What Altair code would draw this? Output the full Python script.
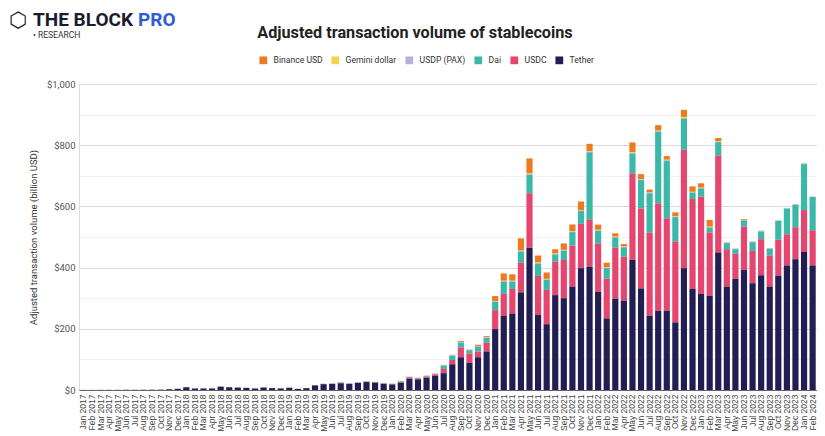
import altair as alt
import pandas as pd

month_names = ["Jan", "Feb", "Mar", "Apr", "May", "Jun", "Jul", "Aug", "Sep", "Oct", "Nov", "Dec"]
months = [f"{m} {y}" for y in range(2017, 2025) for m in month_names][:86]

tether = [
    0.3, 0.3, 0.4, 0.5, 0.5, 0.6, 0.7, 0.8, 1.0, 1.2, 2.5, 4,
    9, 5, 5, 5, 11, 9, 8, 7, 5, 8, 6, 5,
    7, 3.5, 6, 15, 19, 20, 22, 20, 23, 26, 24, 20,
    18, 24, 37, 35, 40, 46, 55, 84, 107, 89, 107, 126,
    199, 242, 250, 319, 465, 245, 215, 310, 300, 338, 398, 403,
    321, 234, 298, 292, 425, 332, 243, 259, 259, 221, 398, 330,
    314, 308, 449, 338, 363, 392, 349, 375, 338, 373, 407, 427,
    451, 407,
]
usdc = [
    0, 0, 0, 0, 0, 0, 0, 0, 0, 0, 0, 0,
    0, 0, 0, 0, 0, 0, 0, 0, 0, 0.3, 0.4, 0.3,
    0.4, 0.2, 0.3, 0.4, 0.6, 0.6, 1.0, 0.8, 1.0, 1.0, 0.8, 1.2,
    1.2, 1.5, 4, 3, 4, 5, 14, 14, 32, 30, 19, 29,
    62, 72, 80, 97, 178, 128, 112, 109, 125, 134, 145, 153,
    158, 130, 167, 144, 283, 261, 271, 351, 302, 264, 387, 294,
    318, 207, 317, 122, 82, 142, 105, 118, 101, 118, 102, 105,
    137, 115,
]
dai = [
    0, 0, 0, 0, 0, 0, 0, 0, 0, 0, 0, 0.1,
    0.2, 0.1, 0.1, 0.1, 0.2, 0.2, 0.2, 0.2, 0.2, 0.2, 0.2, 0.2,
    0.3, 0.2, 0.3, 0.4, 0.4, 0.4, 0.5, 0.5, 0.5, 0.6, 0.5, 0.6,
    0.8, 2.5, 1, 1, 1.5, 1.5, 11, 14, 16, 11, 16, 15,
    27, 40, 24, 36, 60, 40, 33, 24, 30, 44, 42, 221,
    41, 34, 33, 30, 65, 93, 129, 234, 188, 80, 102, 21,
    27, 16, 44, 20, 15, 20, 29, 25, 23, 62, 84, 73,
    150, 109,
]
usdp = [
    0, 0, 0, 0, 0, 0, 0, 0, 0, 0, 0, 0,
    0, 0, 0, 0, 0, 0, 0, 0, 0.3, 0.4, 0.4, 0.3,
    0.4, 0.2, 0.4, 0.6, 0.8, 1.0, 3.0, 0.8, 1.0, 1.0, 0.8, 0.8,
    0.8, 1.5, 1.5, 1, 1.5, 1.5, 1.5, 1.5, 1.5, 1.2, 1.5, 1.5,
    2, 2, 2, 2, 3, 2, 2, 2, 2, 2, 2, 2,
    2, 2, 2, 2, 2, 2, 2, 2, 2, 1.5, 1.5, 1.5,
    1.5, 1.5, 1.5, 1.5, 2.5, 1.5, 2, 2.5, 1, 1, 1, 1.5,
    2, 0.5,
]
gemini = [
    0, 0, 0, 0, 0, 0, 0, 0, 0, 0, 0, 0,
    0, 0, 0, 0, 0, 0, 0, 0, 0.2, 0.2, 0.2, 0.2,
    0.2, 0.1, 0.2, 0.2, 0.2, 0.2, 0.3, 0.3, 0.3, 0.3, 0.3, 0.3,
    0.3, 0.3, 0.3, 0.3, 0.3, 0.3, 0.3, 0.5, 0.5, 0.5, 0.5, 0.5,
    1, 1, 1, 1.5, 2, 1.5, 1, 1, 1, 1, 1, 1.5,
    1.5, 1, 1, 1, 2, 1.5, 1, 1.5, 1.5, 1, 4, 1,
    1, 1, 1, 0.5, 0.5, 0.5, 0.3, 0.3, 0.3, 0.3, 0.3, 0.3,
    1, 0.3,
]
busd = [
    0, 0, 0, 0, 0, 0, 0, 0, 0, 0, 0, 0,
    0, 0, 0, 0, 0, 0, 0, 0, 0, 0, 0, 0,
    0, 0, 0, 0, 0, 0, 0, 0, 0.2, 0.3, 0.3, 0.3,
    0.3, 0.3, 0.5, 0.3, 0.5, 0.5, 0.5, 1, 3, 1, 4, 4,
    16, 24, 21, 40, 49, 23, 21, 14, 21, 22, 28, 24,
    17, 15, 11, 8, 32, 16, 9, 18, 12, 13, 23, 18,
    14, 22, 11, 1, 0.3, 2.5, 0.3, 0.3, 0.2, 0.2, 0.2, 0.2,
    1, 0.2,
]

series_names = ["Binance USD", "Gemini dollar", "USDP (PAX)", "Dai", "USDC", "Tether"]
series_colors = ["#ee7a1e", "#f3d34a", "#b8b0dc", "#3cb8a9", "#e4466f", "#221d52"]
series_values = [busd, gemini, usdp, dai, usdc, tether]
stack_rank = {"Tether": 0, "USDC": 1, "Dai": 2, "USDP (PAX)": 3, "Gemini dollar": 4, "Binance USD": 5}

rows = []
for name, vals in zip(series_names, series_values):
    for m, v in zip(months, vals):
        rows.append({"month": m, "coin": name, "value": v, "rank": stack_rank[name]})
df = pd.DataFrame(rows)

FONT = "Roboto"

bars = alt.Chart(df).mark_bar().encode(
    x=alt.X(
        "month:O",
        sort=months,
        scale=alt.Scale(paddingInner=0.28, paddingOuter=0.15),
        axis=alt.Axis(
            title=None,
            labelAngle=-90,
            labelFontSize=8.5,
            labelColor="#444444",
            labelFont="Liberation Sans",
            labelPadding=4,
            ticks=False,
            domainColor="#666666",
            labelOverlap=False,
        ),
    ),
    y=alt.Y(
        "value:Q",
        stack="zero",
        scale=alt.Scale(domain=[0, 1000], nice=False),
        axis=alt.Axis(
            title="Adjusted transaction volume (billion USD)",
            titleFont=FONT,
            titleFontSize=9.5,
            titleFontWeight="normal",
            titleColor="#333333",
            titlePadding=8,
            values=list(range(0, 1001, 100)),
            labelExpr="datum.value % 200 == 0 ? '$' + format(datum.value, ',') : ''",
            labelFont=FONT,
            labelFontSize=9.5,
            labelColor="#555555",
            labelPadding=4,
            ticks=False,
            domain=False,
            gridColor={"condition": {"test": "datum.value % 200 == 0", "value": "#dcdcdc"}, "value": "#f1f1f1"},
        ),
    ),
    color=alt.Color(
        "coin:N",
        scale=alt.Scale(domain=series_names, range=series_colors),
        legend=alt.Legend(
            title=None,
            orient="none",
            direction="horizontal",
            legendX=180,
            legendY=-28,
            symbolType="square",
            symbolSize=60,
            symbolStrokeWidth=0,
            labelFont=FONT,
            labelFontSize=8.6,
            labelColor="#333333",
            labelOffset=6,
            columnPadding=8,
            symbolOffset=0,
        ),
    ),
    order=alt.Order("rank:Q", sort="ascending"),
)

one = pd.DataFrame({"a": [0]})
title_txt = alt.Chart(one).mark_text(
    text="Adjusted transaction volume of stablecoins", font=FONT, fontSize=16.2, fontWeight="bold",
    color="#222222", align="center", baseline="middle"
).encode(x=alt.value(336), y=alt.value(-51))
logo_icon = alt.Chart(one).mark_text(
    text="⬡", font="DejaVu Sans", fontSize=21, fontWeight="bold", color="#1b1b2f", align="center", baseline="middle"
).encode(x=alt.value(-61), y=alt.value(-63))
logo_main = alt.Chart(one).mark_text(
    text="THE BLOCK", font=FONT, fontSize=19, fontWeight="bold", color="#1b1b2f", align="left", baseline="middle"
).encode(x=alt.value(-46), y=alt.value(-64))
logo_pro = alt.Chart(one).mark_text(
    text="PRO", font=FONT, fontSize=19, fontWeight="bold", color="#2f5bd3", align="left", baseline="middle"
).encode(x=alt.value(59), y=alt.value(-64))
logo_sub = alt.Chart(one).mark_text(
    text="• RESEARCH", font=FONT, fontSize=8.5, color="#333333", align="left", baseline="middle"
).encode(x=alt.value(-46), y=alt.value(-49))

chart = alt.layer(bars, title_txt, logo_icon, logo_main, logo_pro, logo_sub).properties(
    width=738,
    height=306,
    autosize=alt.AutoSizeParams(type="none"),
    padding={"left": 71, "top": 76, "right": 0, "bottom": 42},
).configure_view(stroke=None).configure(background="white")

chart.save("out.html", embed_options={"renderer": "svg", "actions": False})
